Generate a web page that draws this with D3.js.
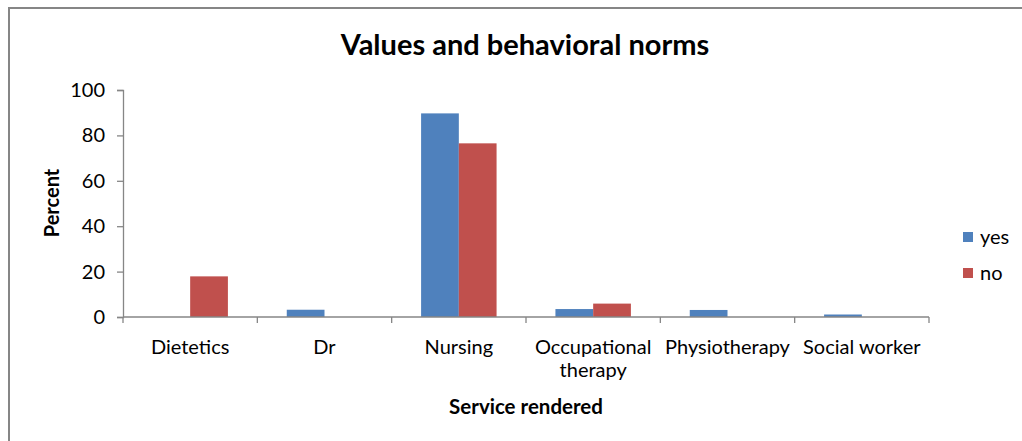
<!DOCTYPE html>
<html>
<head>
<meta charset="utf-8">
<script src="https://cdn.jsdelivr.net/npm/d3@7"></script>
<style>
  html, body { margin: 0; padding: 0; background: #fff; }
  svg { display: block; }
  text { font-family: Lato, "Open Sans", sans-serif; fill: #000; }
</style>
</head>
<body>
<script>
const categories = ["Dietetics", "Dr", "Nursing", "Occupational therapy", "Physiotherapy", "Social worker"];
const seriesNames = ["yes", "no"];
const yesValues = [0, 3.2, 89.7, 3.5, 3.1, 1.1];
const noValues = [17.9, 0, 76.5, 5.9, 0, 0];
const yTicks = [0, 20, 40, 60, 80, 100];
const colors = ["#4F81BD", "#C0504D"];

const W = 1022, H = 441;
const svg = d3.select("body").append("svg").attr("width", W).attr("height", H);

// outer chart border
svg.append("rect").attr("x", 9).attr("y", 8).attr("width", W + 20).attr("height", H + 20)
  .attr("fill", "none").attr("stroke", "#868686").attr("stroke-width", 2);

const plot = { left: 123, right: 929, top: 90, bottom: 317 };

const x0 = d3.scaleBand().domain(categories).range([plot.left, plot.right]).padding(0);
const x1 = d3.scaleBand().domain(seriesNames).range([0, x0.bandwidth()]).paddingInner(0).paddingOuter(0.78);
const y = d3.scaleLinear().domain([0, 100]).range([plot.bottom, plot.top]);

const data = categories.map((c, i) => ({ cat: c, values: [yesValues[i], noValues[i]] }));

// bars
const g = svg.append("g");
data.forEach(d => {
  d.values.forEach((v, j) => {
    if (v <= 0) return;
    g.append("rect")
      .attr("x", x0(d.cat) + x1(seriesNames[j]))
      .attr("y", y(v))
      .attr("width", x1.bandwidth())
      .attr("height", y(0) - y(v))
      .attr("fill", colors[j]);
  });
});

// y axis
const yAxis = svg.append("g").attr("transform", `translate(${plot.left},0)`)
  .call(d3.axisLeft(y).tickValues(yTicks).tickSize(6).tickPadding(12));
yAxis.select(".domain").attr("stroke", "#868686").attr("stroke-width", 1.3);
yAxis.selectAll(".tick line").attr("stroke", "#868686").attr("stroke-width", 1.3);
yAxis.selectAll(".tick text").attr("font-size", 20).attr("font-family", "Lato").attr("fill", "#000");

// x axis line
svg.append("line").attr("x1", plot.left).attr("x2", plot.right)
  .attr("y1", plot.bottom).attr("y2", plot.bottom)
  .attr("stroke", "#868686").attr("stroke-width", 1.3);
// boundary ticks
const bounds = categories.map(c => x0(c)).concat([x0.range()[1]]);
svg.selectAll(".xb").data(bounds).enter().append("line")
  .attr("x1", d => d).attr("x2", d => d)
  .attr("y1", plot.bottom).attr("y2", plot.bottom + 6)
  .attr("stroke", "#868686").attr("stroke-width", 1.3);

// x labels with wrapping
categories.forEach(c => {
  const cx = x0(c) + x0.bandwidth() / 2;
  const t = svg.append("text").attr("x", cx).attr("y", 354)
    .attr("text-anchor", "middle").attr("font-size", 20);
  t.text(c);
  if (t.node().getComputedTextLength() > x0.bandwidth() + 4) {
    const words = c.split(" ");
    t.text(null);
    words.forEach((w, k) => {
      t.append("tspan").attr("x", cx).attr("dy", k === 0 ? 0 : 23).text(w);
    });
  }
});

// title
svg.append("text").attr("x", 525).attr("y", 55).attr("text-anchor", "middle")
  .attr("font-size", 29).attr("font-weight", "bold").text("Values and behavioral norms");

// axis titles
svg.append("text").attr("x", 526).attr("y", 414).attr("text-anchor", "middle")
  .attr("font-size", 20.5).attr("font-weight", "bold").text("Service rendered");
svg.append("text").attr("transform", "translate(59,203) rotate(-90)").attr("text-anchor", "middle")
  .attr("font-size", 20).attr("font-weight", "bold").text("Percent");

// legend
const legend = svg.append("g");
seriesNames.forEach((s, i) => {
  const ly = 237 + i * 36;
  legend.append("rect").attr("x", 963).attr("y", ly - 5).attr("width", 10).attr("height", 10).attr("fill", colors[i]);
  legend.append("text").attr("x", 980).attr("y", ly + 7).attr("font-size", 20).text(s);
});
</script>
</body>
</html>
